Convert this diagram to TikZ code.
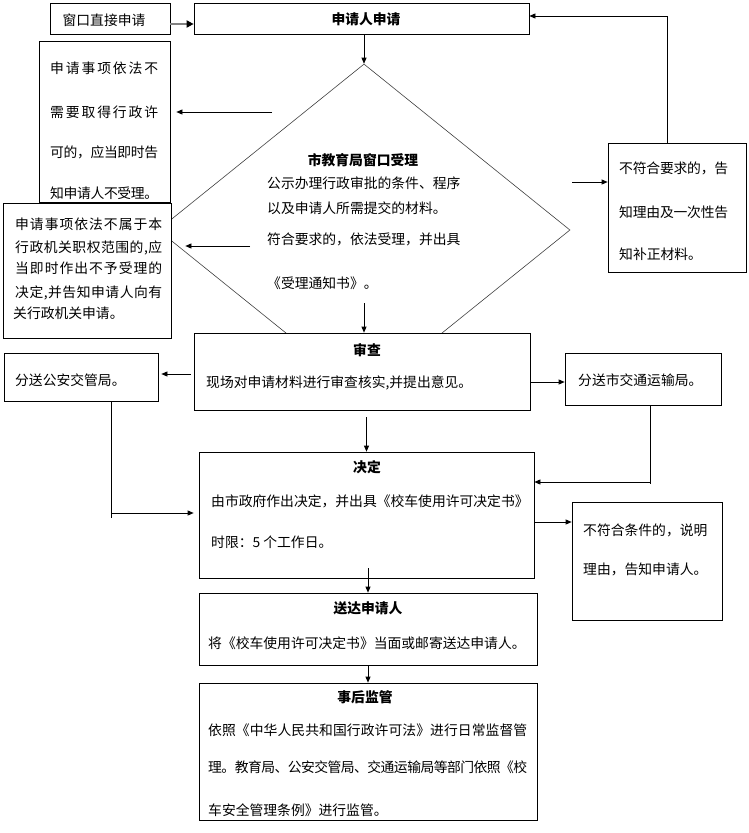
\documentclass[tikz,border=0pt]{standalone}
\usepackage{fontspec}
\setmainfont{Noto Sans CJK SC}
\usetikzlibrary{arrows.meta,shapes.geometric,calc}
\newskip\sprskip \sprskip=0pt plus 1fil minus 1fil
\makeatletter
\def\spr@A#1{#1\spr@B}
\def\spr@B#1{\ifx#1\relax\else\hskip\sprskip#1\expandafter\spr@B\fi}
\newcommand\sprd[2]{\hbox to #1{\expandafter\spr@A#2\relax}}
\makeatother
\tikzset{
  box/.style={draw, line width=0.7pt, fill=white, inner sep=0pt},
  txt/.style={inner sep=0pt, anchor=base west, font=\fontsize{13.8pt}{16pt}\selectfont},
  ttl/.style={inner sep=0pt, anchor=base, font=\fontsize{13.8pt}{16pt}\selectfont\bfseries},
  arr/.style={-{Triangle[length=6pt,width=5pt]}, line width=0.7pt},
  ln/.style={line width=0.7pt}
}
\begin{document}
\begin{tikzpicture}[x=1pt,y=-1pt]
\useasboundingbox (0,0) rectangle (748,833);
% diamond
\node[draw=black!75, line width=0.6pt, diamond, minimum width=412pt, minimum height=332pt, inner sep=0pt] (dia) at (364,230) {};
% boxes
\node[box, minimum width=120pt, minimum height=31pt] (win) at (110,18.5) {};
\node[box, minimum width=335pt, minimum height=31pt] (apply) at (361.5,18.5) {};
\node[box, minimum width=131pt, minimum height=161pt] (nolic) at (104.5,121.5) {};
\node[box, minimum width=168pt, minimum height=135pt] (nojur) at (87,270.5) {};
\node[box, minimum width=138pt, minimum height=129pt] (nomeet) at (677,207.5) {};
\node[box, minimum width=336pt, minimum height=77pt] (review) at (362,371.5) {};
\node[box, minimum width=154pt, minimum height=48pt] (police) at (81,377) {};
\node[box, minimum width=156pt, minimum height=52pt] (transport) at (643,379) {};
\node[box, minimum width=335pt, minimum height=126pt] (decision) at (366.5,515) {};
\node[box, minimum width=150pt, minimum height=118pt] (reject) at (647,561) {};
\node[box, minimum width=338pt, minimum height=72pt] (deliver) at (368,629) {};
\node[box, minimum width=338pt, minimum height=137pt] (supervise) at (368,751.5) {};
% texts
\node[txt, anchor=base] (wint) at (104,25) {窗口直接申请};
\node[ttl] (applyt) at (366,24) {申请人申请};
\node[ttl] (diat) at (363,165) {市教育局窗口受理};
\node[txt] (dia1) at (267,188) {公示办理行政审批的条件、程序};
\node[txt] (dia2) at (267,213) {以及申请人所需提交的材料。};
\node[txt] (dia3) at (267,244) {符合要求的，依法受理，并出具};
\node[txt] (dia4) at (267,288) {《受理通知书》。};
\node[txt] (nl1) at (50,73) {\sprd{108pt}{申请事项依法不}};
\node[txt] (nl2) at (50,117) {\sprd{108pt}{需要取得行政许}};
\node[txt] (nl3) at (50,157) {\sprd{108pt}{可的，应当即时告}};
\node[txt] (nl4) at (50,198) {\sprd{108pt}{知申请人不受理。}};
\node[txt] (nj1) at (15,229) {\sprd{147pt}{申请事项依法不属于本}};
\node[txt] (nj2) at (15,252) {\sprd{147pt}{行政机关职权范围的,应}};
\node[txt] (nj3) at (15,273) {\sprd{147pt}{当即时作出不予受理的}};
\node[txt] (nj4) at (15,297) {\sprd{147pt}{决定,并告知申请人向有}};
\node[txt] (nj5) at (13,318) {关行政机关申请。};
\node[txt] (nm1) at (619,173) {\sprd{109pt}{不符合要求的，告}};
\node[txt] (nm2) at (619,217) {\sprd{109pt}{知理由及一次性告}};
\node[txt] (nm3) at (619,259) {知补正材料。};
\node[ttl] (revt) at (367,355) {审查};
\node[txt] (rev1) at (206,387) {现场对申请材料进行审查核实,并提出意见。};
\node[txt] (pol1) at (15,385) {分送公安交管局。};
\node[txt] (tra1) at (578,385) {分送市交通运输局。};
\node[ttl] (dect) at (367,472) {决定};
\node[txt] (dec1) at (211,506) {由市政府作出决定，并出具《校车使用许可决定书》};
\node[txt] (dec2) at (211,547) {时限：5 个工作日。};
\node[txt] (rej1) at (583,535) {不符合条件的，说明};
\node[txt] (rej2) at (583,574) {理由，告知申请人。};
\node[ttl] (delt) at (368,613) {送达申请人};
\node[txt] (del1) at (208,648) {将《校车使用许可决定书》当面或邮寄送达申请人。};
\node[ttl] (supt) at (365,702) {事后监管};
\node[txt] (sup1) at (208,735) {\sprd{319pt}{依照《中华人民共和国行政许可法》进行日常监督管}};
\node[txt] (sup2) at (208,772) {\sprd{319pt}{理。教育局、公安交管局、交通运输局等部门依照《校}};
\node[txt] (sup3) at (208,815) {车安全管理条例》进行监管。};
% connectors
\coordinate (w1) at ([yshift=-5.5pt]win.east);
\draw[-{Triangle[length=7pt,width=7pt,color=black]}, line width=1.8pt, draw=black!50] (w1) -- (w1 -| apply.west);
\draw[arr] (apply.south -| dia.north) -- (dia.north);
\coordinate (s1) at (272,112);
\draw[arr, shorten >=6pt] (s1) -- (s1 -| nolic.east);
\coordinate (s2) at (250,246);
\draw[arr, shorten >=14pt] (s2) -- (s2 -| nojur.east);
\coordinate (s3) at (572,182);
\draw[arr] (s3) -- (s3 -| nomeet.west);
\coordinate (m1) at ([xshift=-10pt]nomeet.north);
\coordinate (m2) at ([yshift=2.5pt]apply.east);
\draw[arr] (m1) |- (m2);
\coordinate (s4) at (364,303);
\draw[arr] (s4) -- (s4 |- review.north);
\coordinate (r1) at ([yshift=-2.5pt]review.west);
\draw[arr, shorten <=3pt, shorten >=3pt] (r1) -- (r1 -| police.east);
\coordinate (r2) at ([yshift=-10.5pt]review.east);
\draw[arr] (r2) -- (r2 -| transport.west);
\draw[arr, shorten <=7pt] (review.south -| decision.north) -- (decision.north);
\coordinate (p1) at ([xshift=30pt]police.south);
\coordinate (p2) at (111,518);
\draw[ln] (p1) -- (p2);
\coordinate (p3) at (111,513);
\draw[arr, shorten >=5pt] (p3) -- (p3 -| decision.west);
\coordinate (t1) at ([xshift=7pt]transport.south);
\coordinate (t2) at (650,484);
\draw[ln] (t1) -- (t2);
\coordinate (t3) at (650,482);
\draw[arr] (t3) -- (t3 -| decision.east);
\coordinate (d0) at ([yshift=-7pt]decision.east);
\draw[arr] (d0) -- (d0 -| reject.west);
\coordinate (d1) at ([yshift=10pt]decision.south);
\draw[arr] (d1 -| deliver.north) -- (deliver.north);
\draw[arr] (deliver.south) -- (supervise.north);
\end{tikzpicture}
\end{document}
